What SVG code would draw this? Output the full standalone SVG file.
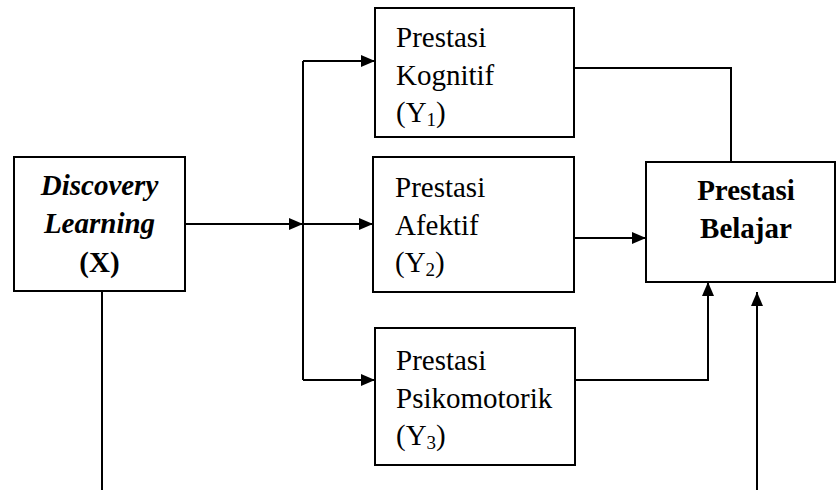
<svg xmlns="http://www.w3.org/2000/svg" width="836" height="490" viewBox="0 0 836 490">
<style>
.box{fill:#fff;stroke:#000;stroke-width:2}
text{font-family:'Liberation Serif','Times New Roman',Tinos,'DejaVu Serif',serif;font-size:29px;fill:#000}
.b{font-weight:bold}
.bi{font-weight:bold;font-style:italic}
.sub{font-size:19px}
.c{fill:none;stroke:#000;stroke-width:2}
</style>
<defs>
<marker id="ah" markerUnits="userSpaceOnUse" markerWidth="14" markerHeight="12" refX="14" refY="6" orient="auto">
<path d="M0,0 L14,6 L0,12 z" fill="#000"/>
</marker>
</defs>
<rect width="836" height="490" fill="#fff"/>
<g id="connectors">
<path class="c" d="M185,224 H303" marker-end="url(#ah)"/>
<path class="c" d="M303,224 H373" marker-end="url(#ah)"/>
<path class="c" d="M303,61 V380"/>
<path class="c" d="M303,61 H375" marker-end="url(#ah)"/>
<path class="c" d="M303,380 H375" marker-end="url(#ah)"/>
<path class="c" d="M102,291 V490"/>
<path class="c" d="M574,68 H731 V162"/>
<path class="c" d="M574,238 H646" marker-end="url(#ah)"/>
<path class="c" d="M575,380 H708 V282" marker-end="url(#ah)"/>
<path class="c" d="M757,490 V292" marker-end="url(#ah)"/>
</g>
<g id="discovery">
<rect class="box" x="14" y="157" width="171" height="134"/>
<text class="bi" x="99.5" y="195" text-anchor="middle">Discovery</text>
<text class="bi" x="99.5" y="233" text-anchor="middle">Learning</text>
<text class="b" x="99.5" y="272" text-anchor="middle">(X)</text>
</g>
<g id="kognitif">
<rect class="box" x="375" y="8" width="199" height="129"/>
<text x="396" y="47">Prestasi</text>
<text x="396" y="85">Kognitif</text>
<text x="396" y="122">(Y<tspan class="sub" dy="4">1</tspan><tspan dy="-4">)</tspan></text>
</g>
<g id="afektif">
<rect class="box" x="373" y="157" width="201" height="135"/>
<text x="395" y="197">Prestasi</text>
<text x="395" y="235">Afektif</text>
<text x="395" y="272">(Y<tspan class="sub" dy="4">2</tspan><tspan dy="-4">)</tspan></text>
</g>
<g id="psikomotorik">
<rect class="box" x="375" y="328" width="200" height="137"/>
<text x="396" y="370">Prestasi</text>
<text x="396" y="408">Psikomotorik</text>
<text x="396" y="445">(Y<tspan class="sub" dy="4">3</tspan><tspan dy="-4">)</tspan></text>
</g>
<g id="belajar">
<rect class="box" x="646" y="162" width="189" height="120"/>
<text class="b" x="746" y="200" text-anchor="middle">Prestasi</text>
<text class="b" x="746" y="238" text-anchor="middle">Belajar</text>
</g>
</svg>
